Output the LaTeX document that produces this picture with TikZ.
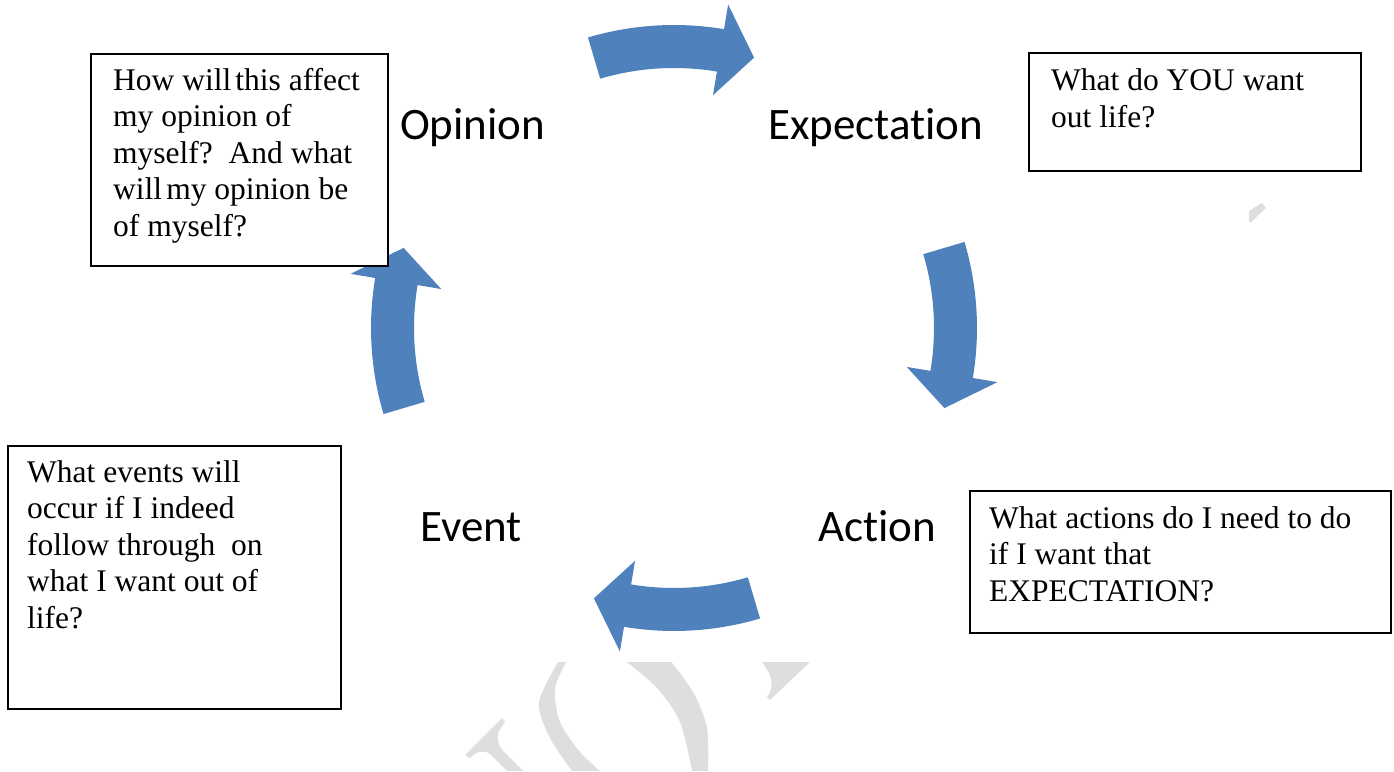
\documentclass[tikz,border=0pt]{standalone}
\usepackage{fontspec}
\newfontfamily\tnrfont{Liberation Serif}
\newfontfamily\calfont[Ligatures=NoCommon]{Carlito}
\definecolor{arrowblue}{HTML}{4F81BD}
\definecolor{wm}{HTML}{DEDEDE}
\tikzset{
  box/.style={draw=black, line width=2pt, anchor=north west, inner sep=0pt, fill=white},
  boxtext/.style={anchor=north west, inner sep=0pt, align=left, font=\tnrfont\fontsize{31.5}{36.5}\selectfont},
  stage/.style={anchor=base west, inner sep=0pt, font=\calfont\fontsize{45}{50}\selectfont},
  cyc/.style={fill=arrowblue, draw=none},
}
\begin{document}
\begin{tikzpicture}[x=1pt,y=1pt]
\useasboundingbox (0,0) rectangle (1394,771);
% watermark fragments
\begin{scope}
\clip (0,0) rectangle (1394,109);
\fill[wm] (465,16) -- (502,53) -- (505,49) -- (499,40) .. controls (496,31) and (499,25) .. (503,20)
   -- (523,0) -- (507,0) -- (490,17) .. controls (483,22) and (476,19) .. (470,13) -- cycle;
\fill[wm] plot[smooth] coordinates {(560,112) (539,69) (550,33) (572,0)}
   -- plot[smooth] coordinates {(600,0) (580,19) (560,49) (555,83) (568,112)} -- cycle;
\fill[wm] plot[smooth] coordinates {(669,112) (693,79) (707,43) (708,0)}
   -- plot[smooth] coordinates {(692,0) (680,49) (657,83) (623,112)} -- cycle;
\fill[wm] (762,109) -- (810,109) -- (770,71) -- (767,74) .. controls (775,84) and (772,96) .. (762,109) -- cycle;
\end{scope}
\fill[wm] (1249,560) -- (1262,568) -- (1266,563) -- (1251,549) -- (1249,549) -- cycle;
% cycle arrows
\coordinate (C) at (674,443);
\foreach \c/\nm in {90/top, 0/right, -90/bottom, 180/left}{
  \pgfmathsetmacro{\t}{\c+16.5}
  \pgfmathsetmacro{\h}{\c-9.5}
  \pgfmathsetmacro{\p}{\c-16.5}
  \fill[cyc] ([shift={(C)}]\t:303) arc[start angle=\t, end angle=\h, radius=303]
     -- ([shift={(C)}]\h:328) -- ([shift={(C)}]\p:282) -- ([shift={(C)}]\h:236)
     -- ([shift={(C)}]\h:260) arc[start angle=\h, end angle=\t, radius=260] -- cycle;
}
% boxes
\node[box, minimum width=297pt, minimum height=212pt] (obox) at (90,718) {};
\node[box, minimum width=332pt, minimum height=118pt] (xbox) at (1028,719) {};
\node[box, minimum width=333pt, minimum height=263pt] (ebox) at (7,326) {};
\node[box, minimum width=421pt, minimum height=142pt] (abox) at (969,281) {};
% box texts
\node[boxtext] (otext) at (113,706.5) {\strut How will\hspace{-0.12em} this affect\\ my opinion of\\ myself?\ \ And what\\ will\hspace{-0.12em} my opinion be\\ of myself?};
\node[boxtext] (xtext) at (1051,706) {\strut What do YOU want\\ out life?};
\node[boxtext] (etext) at (27,314.5) {\strut What events will\\ occur if I indeed\\ follow through\ \ on\\ what I want out of\\ life?};
\node[boxtext] (atext) at (989,268.5) {\strut What actions do I need to do\\ if I want that\\ EXPECTATION?};
% stage labels
\node[stage] (opinion) at (400,631) {Opinion};
\node[stage] (expectation) at (768,631) {Expectation};
\node[stage] (event) at (420,229) {Event};
\node[stage] (action) at (818,229) {Action};
\end{tikzpicture}
\end{document}
